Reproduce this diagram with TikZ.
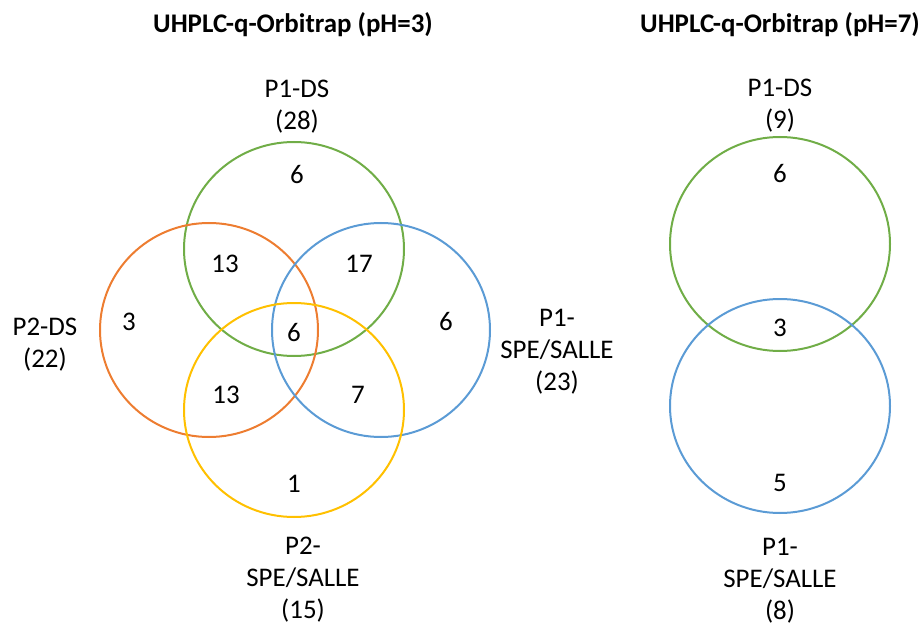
\documentclass[tikz,border=0pt]{standalone}
\usepackage{fontspec}
\setmainfont{Carlito}
\definecolor{vgreen}{HTML}{70AD47}
\definecolor{vorange}{HTML}{ED7D31}
\definecolor{vblue}{HTML}{5B9BD5}
\definecolor{vyellow}{HTML}{FFC000}
\begin{document}
\begin{tikzpicture}[x=1bp,y=-1bp,
  ring/.style={line width=2bp},
  title/.style={anchor=base,inner sep=0pt,font=\fontsize{27}{32}\selectfont\bfseries},
  lbl/.style={anchor=base,inner sep=0pt,font=\fontsize{27}{32}\selectfont},
  num/.style={anchor=base,inner sep=0pt,font=\fontsize{27}{32}\selectfont}]
\useasboundingbox (0,0) rectangle (924,624);
% left Venn
\draw[ring,vgreen]  (294,249) ellipse [x radius=110, y radius=107];
\draw[ring,vorange] (209,330) ellipse [x radius=109, y radius=107];
\draw[ring,vblue]   (381,330) ellipse [x radius=109, y radius=107];
\draw[ring,vyellow] (294,410) ellipse [x radius=110, y radius=107];
% right Venn
\draw[ring,vgreen] (780,244) ellipse [x radius=110, y radius=107];
\draw[ring,vblue]  (780,406) ellipse [x radius=110, y radius=107];
% titles
\node[title] (t1) at (293,33) {UHPLC-q-Orbitrap (pH=3)};
\node[title] (t2) at (780,33) {UHPLC-q-Orbitrap (pH=7)};
% set labels left
\node[lbl] (a1) at (297,98) {P1-DS};
\node[lbl] (a2) at (297,130) {(28)};
\node[lbl] (b1) at (45,335) {P2-DS};
\node[lbl] (b2) at (45,367) {(22)};
\node[lbl] (c1) at (557,326) {P1-};
\node[lbl] (c2) at (557,358) {SPE/SALLE};
\node[lbl] (c3) at (557,390) {(23)};
\node[lbl] (d1) at (303,554) {P2-};
\node[lbl] (d2) at (303,586) {SPE/SALLE};
\node[lbl] (d3) at (303,618) {(15)};
% numbers left
\node[num] (n1) at (297,184) {6};
\node[num] (n2) at (225,273) {13};
\node[num] (n3) at (359,273) {17};
\node[num] (n4) at (129,330) {3};
\node[num] (n5) at (294,341) {6};
\node[num] (n6) at (446,330) {6};
\node[num] (n7) at (226,403) {13};
\node[num] (n8) at (358,403) {7};
\node[num] (n9) at (294,492) {1};
% right labels
\node[lbl] (e1) at (780,97) {P1-DS};
\node[lbl] (e2) at (780,129) {(9)};
\node[lbl] (f1) at (780,555) {P1-};
\node[lbl] (f2) at (780,587) {SPE/SALLE};
\node[lbl] (f3) at (780,619) {(8)};
\node[num] (m1) at (780,183) {6};
\node[num] (m2) at (780,336) {3};
\node[num] (m3) at (780,491) {5};
\end{tikzpicture}
\end{document}
